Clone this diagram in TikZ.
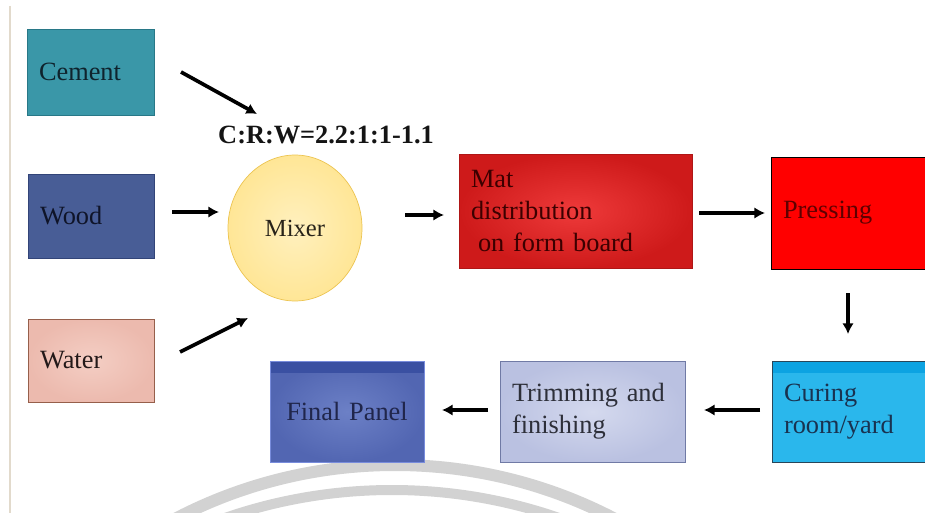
\documentclass[tikz,border=0pt]{standalone}
\usepackage{fontspec}
\setmainfont{Liberation Serif}
\usetikzlibrary{arrows.meta,shapes.geometric,positioning}

\definecolor{cementfill}{RGB}{58,151,168}
\definecolor{cementedge}{RGB}{40,120,135}
\definecolor{woodfill}{RGB}{72,93,150}
\definecolor{woodedge}{RGB}{50,68,120}
\definecolor{waterfill}{RGB}{236,186,174}
\definecolor{waterin}{RGB}{244,206,196}
\definecolor{wateredge}{RGB}{150,95,75}
\definecolor{mixerfill}{RGB}{255,230,150}
\definecolor{mixerin}{RGB}{255,240,190}
\definecolor{mixeredge}{RGB}{236,196,80}
\definecolor{matfill}{RGB}{206,26,26}
\definecolor{matin}{RGB}{238,58,58}
\definecolor{pressfill}{RGB}{255,0,0}
\definecolor{curefill}{RGB}{42,183,236}
\definecolor{cureband}{RGB}{12,163,226}
\definecolor{trimfill}{RGB}{186,193,225}
\definecolor{trimin}{RGB}{212,217,238}
\definecolor{trimedge}{RGB}{112,122,165}
\definecolor{finalfill}{RGB}{82,102,178}
\definecolor{finalin}{RGB}{108,128,198}
\definecolor{finalband}{RGB}{58,80,162}
\definecolor{finaledge}{RGB}{120,140,220}
\definecolor{arcgray}{RGB}{210,210,210}
\definecolor{edgetan}{RGB}{226,218,204}

\begin{document}
\begin{tikzpicture}[x=0.02cm,y=-0.02cm,
  stage/.style={draw, rectangle, inner xsep=0.24cm, inner ysep=0pt, align=left,
    font=\fontsize{15}{18}\selectfont},
  flow/.style={-{Latex[length=6pt,width=6.5pt]}, line width=2.1pt},
  band/.style={path picture={\fill[#1] (path picture bounding box.north west)
    rectangle ([yshift=-0.24cm]path picture bounding box.north east);}}]
\clip (0,0) rectangle (925,513);
\fill[white] (0,0) rectangle (925,513);
% arcs at the bottom
\draw[arcgray, line width=0.24cm] (395,940) circle[radius=475];
\draw[arcgray, line width=0.2cm] (392,1000) circle[radius=510];
\draw[edgetan, line width=1.2pt] (10,6) -- (10,513);

% raw materials
\node[stage, fill=cementfill, draw=cementedge, text={rgb,255:red,15;green,35;blue,45},
  text width=2.06cm, minimum height=1.72cm] (cement) at (90.5,72) {Cement};
\node[stage, fill=woodfill, draw=woodedge, text={rgb,255:red,15;green,20;blue,40},
  text width=2.04cm, minimum height=1.68cm] (wood) at (91,216) {Wood};
\node[stage, shade, inner color=waterin, outer color=waterfill, draw=wateredge,
  text={rgb,255:red,35;green,25;blue,25}, text width=2.04cm, minimum height=1.66cm]
  (water) at (91,360.5) {Water};

\node[ellipse, draw=mixeredge, shade, inner color=mixerin, outer color=mixerfill,
  minimum width=2.68cm, minimum height=2.92cm, inner sep=0pt,
  text={rgb,255:red,40;green,35;blue,25}, font=\fontsize{14}{17}\selectfont]
  (mixer) at (295,228) {Mixer};
\node[font=\bfseries\fontsize{15}{18}\selectfont, text={rgb,255:red,20;green,20;blue,20}]
  (ratio) at (326,135) {C:R:W=2.2:1:1-1.1};

% process chain
\node[stage, shade, inner color=matin, outer color=matfill, draw=matfill!85!black,
  text={rgb,255:red,60;green,0;blue,0}, text width=4.18cm, minimum height=2.28cm]
  (mat) at (575.5,211) {Mat\\distribution\\\hspace{0.14cm}on form board};
\node[stage, fill=pressfill, draw=black, text={rgb,255:red,95;green,0;blue,0},
  text width=3.52cm, minimum height=2.24cm] (press) at (871,213) {Pressing};
\node[stage, fill=curefill, draw={rgb,255:red,40;green,70;blue,90}, band=cureband,
  text={rgb,255:red,25;green,50;blue,80}, text width=3.52cm, minimum height=2.02cm]
  (cure) at (872,411.5) {Curing\\room/yard};
\node[stage, shade, inner color=trimin, outer color=trimfill, draw=trimedge,
  text={rgb,255:red,45;green,47;blue,57}, text width=3.22cm, minimum height=2.02cm]
  (trim) at (592.5,411.5) {Trimming and\\finishing};
\node[stage, shade, inner color=finalin, outer color=finalfill, draw=finaledge,
  band=finalband, align=center, text={rgb,255:red,32;green,38;blue,75},
  text width=2.6cm, minimum height=2.02cm] (final) at (347,411.5) {Final Panel};

% connectors
\coordinate (cement-out) at (181,72);
\coordinate (mixer-in-c) at (257,114);
\coordinate (wood-out) at (172,212);
\coordinate (mixer-in-w) at (219,212);
\coordinate (water-out) at (180,352);
\coordinate (mixer-in-r) at (248,318);
\coordinate (mixer-out) at (405,215);
\coordinate (mat-in) at (444,215);
\coordinate (mat-out) at (699,213);
\coordinate (press-in) at (765,213);
\coordinate (press-out) at (848,293);
\coordinate (cure-in) at (848,334);
\coordinate (cure-out) at (760,410);
\coordinate (trim-in) at (704,410);
\coordinate (trim-out) at (488,410);
\coordinate (final-in) at (442,410);

\draw[flow] (cement-out) -- (mixer-in-c);
\draw[flow] (wood-out) -- (mixer-in-w);
\draw[flow] (water-out) -- (mixer-in-r);
\draw[flow] (mixer-out) -- (mat-in);
\draw[flow] (mat-out) -- (press-in);
\draw[flow] (press-out) -- (cure-in);
\draw[flow] (cure-out) -- (trim-in);
\draw[flow] (trim-out) -- (final-in);
\end{tikzpicture}
\end{document}
